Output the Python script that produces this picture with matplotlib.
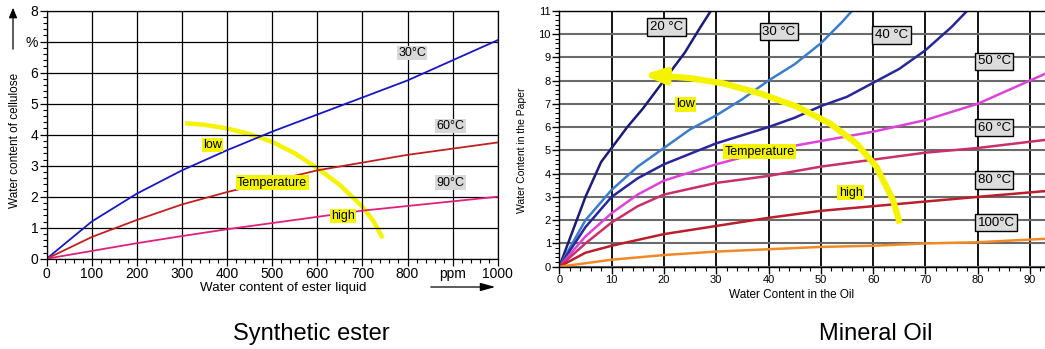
"""Water content equilibrium curves: synthetic ester vs mineral oil."""
import matplotlib
matplotlib.use('Agg')
import matplotlib.pyplot as plt
import numpy as np

plt.rcParams['font.family'] = ['Liberation Sans', 'DejaVu Sans']

W, H = 1045, 349

# ---- Synthetic ester (left) ----
ester_ppm = [0, 100, 200, 300, 400, 500, 600, 700, 800, 900, 1000]
ester_30c = [0, 1.2, 2.1, 2.85, 3.5, 4.1, 4.65, 5.2, 5.75, 6.4, 7.05]
ester_60c = [0, 0.7, 1.25, 1.75, 2.15, 2.5, 2.85, 3.1, 3.35, 3.55, 3.75]
ester_90c = [0, 0.25, 0.5, 0.73, 0.95, 1.15, 1.35, 1.55, 1.7, 1.85, 2.0]
ester_yticklabels = ['0', '1', '2', '3', '4', '5', '6', '%', '8']
ester_xticklabels = ['0', '100', '200', '300', '400', '500', '600', '700', '800', 'ppm', '1000']
ester_temp_x = [307, 350, 400, 450, 500, 550, 600, 650, 700, 725, 745]
ester_temp_y = [4.37, 4.32, 4.2, 4.02, 3.77, 3.4, 2.92, 2.38, 1.68, 1.2, 0.66]

# ---- Mineral oil (right) ----
oil_curves = {
    '20 °C': ([0, 2, 5, 8, 10, 13, 16, 20, 24, 27, 29],
              [0, 1.2, 3.0, 4.5, 5.1, 6.0, 6.8, 8.0, 9.2, 10.3, 11.0]),
    '30 °C': ([0, 5, 10, 15, 20, 25, 30, 35, 40, 45, 50, 54, 56],
              [0, 2.0, 3.3, 4.3, 5.1, 5.9, 6.5, 7.2, 8.0, 8.7, 9.6, 10.5, 11.0]),
    '40 °C': ([0, 5, 10, 15, 20, 30, 40, 45, 50, 55, 60, 65, 70, 75, 78],
              [0, 1.7, 3.0, 3.8, 4.4, 5.3, 6.0, 6.4, 6.9, 7.3, 7.9, 8.5, 9.3, 10.3, 11.0]),
    '50 °C': ([0, 5, 10, 15, 20, 30, 40, 50, 60, 70, 80, 85, 93],
              [0, 1.3, 2.3, 3.1, 3.7, 4.4, 5.0, 5.4, 5.8, 6.3, 7.0, 7.5, 8.3]),
    '60 °C': ([0, 5, 10, 15, 20, 30, 40, 50, 60, 70, 80, 93],
              [0, 1.0, 1.9, 2.6, 3.1, 3.6, 3.9, 4.3, 4.6, 4.9, 5.1, 5.45]),
    '80 °C': ([0, 5, 10, 20, 30, 40, 50, 60, 70, 80, 93],
              [0, 0.6, 0.9, 1.4, 1.75, 2.1, 2.4, 2.6, 2.8, 3.0, 3.25]),
    '100°C': ([0, 10, 20, 30, 40, 50, 60, 70, 80, 93],
              [0, 0.3, 0.5, 0.65, 0.75, 0.85, 0.9, 1.0, 1.05, 1.2]),
}
oil_colors = ['#1c1c78', '#3d7cc9', '#26289a', '#dc44d8', '#c8306a', '#b8202e', '#f08a28']
oil_label_pos = [(20.5, 10.3, 'center'), (42, 10.1, 'center'), (63.5, 9.95, 'center'),
                 (80, 8.83, 'left'), (80, 5.97, 'left'), (80, 3.72, 'left'), (80, 1.89, 'left')]
oil_temp_x = [65.1, 63.8, 60.6, 56.8, 51.7, 45.4, 38.3, 31.3, 25.0, 20.5]
oil_temp_y = [1.86, 2.87, 4.3, 5.3, 6.16, 6.88, 7.45, 7.88, 8.1, 8.19]
oil_temp_tip = (16.0, 8.24)

YELLOW = '#f4f400'


def fx(px):
    return px / W


def fy(py):
    return 1 - py / H


fig = plt.figure(figsize=(W / 100, H / 100), dpi=100)

# ================= left chart =================
ax1 = fig.add_axes([fx(46.7), fy(258.7), (497.7 - 46.7) / W, (258.7 - 10.7) / H])
ax1.plot(ester_ppm, ester_30c, color='#1818c0', lw=1.3)
ax1.plot(ester_ppm, ester_60c, color='#c02020', lw=1.3)
ax1.plot(ester_ppm, ester_90c, color='#e0207a', lw=1.3)
ax1.plot(ester_temp_x, ester_temp_y, color=YELLOW, lw=3.2, solid_capstyle='butt',
         solid_joinstyle='round', zorder=1.5)
ax1.set_xlim(0, 1000)
ax1.set_ylim(0, 8)
ax1.set_xticks(ester_ppm)
ax1.set_xticklabels(ester_xticklabels)
ax1.set_xticks(np.arange(0, 1001, 20), minor=True)
ax1.set_yticks(range(9))
ax1.set_yticklabels(ester_yticklabels)
ax1.set_yticks(np.arange(0, 8.01, 0.2), minor=True)
ax1.grid(True, which='major', color='black', lw=0.9)
ax1.tick_params(which='major', length=5, width=0.9, labelsize=10, pad=1)
ax1.tick_params(which='minor', length=3, width=0.8)
for s in ax1.spines.values():
    s.set_linewidth(0.9)

gray_box = dict(boxstyle='square,pad=0.1', fc='#d8d8d8', ec='none')
ax1.text(810, 6.63, '30°C', fontsize=9, ha='center', va='center', bbox=gray_box)
ax1.text(895, 4.28, '60°C', fontsize=9, ha='center', va='center', bbox=gray_box)
ax1.text(895, 2.45, '90°C', fontsize=9, ha='center', va='center', bbox=gray_box)
yel_box = dict(boxstyle='square,pad=0.1', fc=YELLOW, ec='none')
ax1.text(367, 3.67, 'low', fontsize=9, ha='center', va='center', bbox=yel_box, zorder=4)
ax1.text(500, 2.45, 'Temperature', fontsize=9, ha='center', va='center', bbox=yel_box, zorder=4)
ax1.text(657, 1.37, 'high', fontsize=9, ha='center', va='center', bbox=yel_box, zorder=4)

fig.text(fx(15), fy(140), 'Water content of cellulose', rotation=90, fontsize=8.5,
         ha='center', va='center')
fig.text(fx(283), fy(288), 'Water content of ester liquid', fontsize=9.6, ha='center', va='center')
fig.add_artist(matplotlib.patches.FancyArrowPatch(
    (fx(13), fy(52)), (fx(13), fy(5)), transform=fig.transFigure,
    arrowstyle='-|>,head_length=6,head_width=2.5', color='black', lw=0.9))
fig.add_artist(matplotlib.patches.FancyArrowPatch(
    (fx(428), fy(287)), (fx(498), fy(287)), transform=fig.transFigure,
    arrowstyle='-|>,head_length=9,head_width=2.5', color='black', lw=0.9))

# ================= right chart =================
x_scale = 52.3 / 10
ax2 = fig.add_axes([fx(559.3), fy(266.7), 93 * x_scale / W, (266.7 - 10.7) / H])
for (name, (xs, ys)), c in zip(oil_curves.items(), oil_colors):
    ax2.plot(xs, ys, color=c, lw=1.8)
ax2.plot(oil_temp_x, oil_temp_y, color=YELLOW, lw=4.5, solid_capstyle='butt',
         solid_joinstyle='round', zorder=2.5)
ax2.annotate('', xy=oil_temp_tip, xytext=(oil_temp_x[-1], oil_temp_y[-1]),
             arrowprops=dict(arrowstyle='-|>,head_length=1.2,head_width=0.45',
                             color=YELLOW, lw=4.5, shrinkA=0, shrinkB=0), zorder=2.5)
ax2.set_xlim(0, 93)
ax2.set_ylim(0, 11)
ax2.set_xticks(range(0, 91, 10))
ax2.set_xticks(range(0, 93, 2), minor=True)
ax2.set_yticks(range(12))
ax2.set_yticks(np.arange(0, 11.01, 0.2), minor=True)
ax2.grid(True, axis='x', which='major', color='black', lw=1.3)
ax2.grid(True, axis='y', which='major', color='#6a6a6a', lw=1.5)
ax2.tick_params(which='major', length=5, width=1, labelsize=8, pad=1)
ax2.tick_params(which='minor', length=3, width=0.8)
for s in ax2.spines.values():
    s.set_linewidth(1.0)

box_lbl = dict(boxstyle='square,pad=0.2', fc='#dcdcdc', ec='black', lw=1)
for (name, _), (lx, ly, ha) in zip(oil_curves.items(), oil_label_pos):
    ax2.text(lx, ly, name, fontsize=9.5, ha=ha, va='center', bbox=box_lbl, zorder=5)
ax2.text(24.1, 6.97, 'low', fontsize=9, ha='center', va='center', bbox=yel_box, zorder=4)
ax2.text(38.3, 4.94, 'Temperature', fontsize=9, ha='center', va='center', bbox=yel_box, zorder=4)
ax2.text(55.7, 3.18, 'high', fontsize=9, ha='center', va='center', bbox=yel_box, zorder=4)

fig.text(fx(522), fy(150), 'Water Content in the Paper', rotation=90, fontsize=7.5,
         ha='center', va='center')
fig.text(fx(792), fy(295), 'Water Content in the Oil', fontsize=8.5, ha='center', va='center')

# ---- captions ----
fig.text(fx(311), fy(334), 'Synthetic ester', fontsize=17, ha='center', va='center')
fig.text(fx(876), fy(334), 'Mineral Oil', fontsize=17, ha='center', va='center')

fig.savefig('out.png', dpi=100)
